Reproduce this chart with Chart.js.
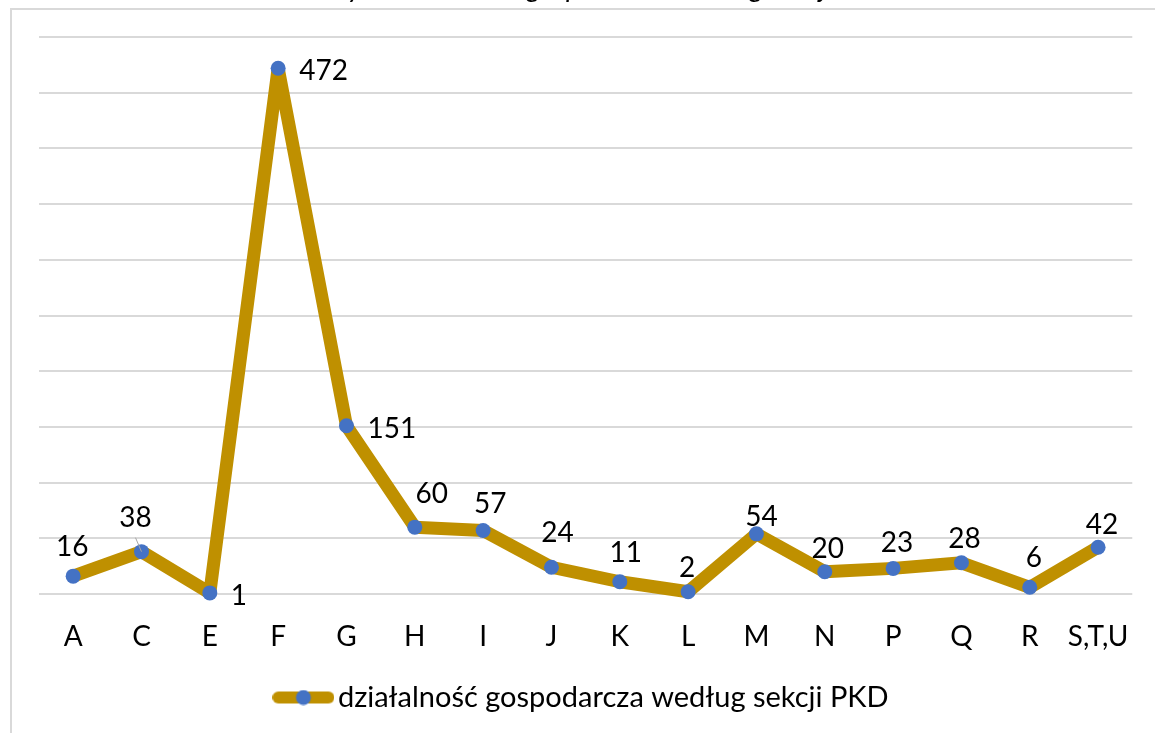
<!DOCTYPE html>
<html>
<head>
<meta charset="utf-8">
<script src="https://cdn.jsdelivr.net/npm/chart.js@4.4.1/dist/chart.umd.min.js"></script>
<style>
html,body{margin:0;padding:0;background:#ffffff;}
#wrap{position:relative;width:1155px;height:733px;overflow:hidden;}
canvas{display:block;}
</style>
</head>
<body>
<div id="wrap"><canvas id="c" width="1155" height="733"></canvas></div>
<script>
// ---- data ----
const categories = ['A','C','E','F','G','H','I','J','K','L','M','N','P','Q','R','S,T,U'];
const values = [16, 38, 1, 472, 151, 60, 57, 24, 11, 2, 54, 20, 23, 28, 6, 42];
const seriesName = 'działalność gospodarcza według sekcji PKD';
const chartTitle = 'Podmioty – działalność gospodarcza według sekcji';
const yMin = 0;
const yMax = 500;
const yStep = 50;

// ---- label styling (placement relative to each point) ----
const labelSide = ['above','above','right','right','right','above','above','above','above','above','above','above','above','above','above','above'];
const labelDx = [-1, -6, 21, 21, 21, 17, 7, 6, 6, -1, 5, 3, 4, 3, 4, 4];
const labelDy = [-30, -35, 2, 2, 2, -34, -28, -35, -30, -25, -18, -24, -26, -25, -30, -23];
const leaderLine = [false, true, false, false, false, false, false, false, false, false, false, false, false, false, false, false];

const FONT = 'Lato';
const FS = 28;
const LINE_COLOR = '#BF9000';
const POINT_COLOR = '#4472C4';

// legend symbol: thick line with round caps and a dot
function legendSymbol() {
  const cv = document.createElement('canvas');
  cv.width = 62; cv.height = 16;
  const g = cv.getContext('2d');
  g.strokeStyle = LINE_COLOR; g.lineWidth = 12; g.lineCap = 'round';
  g.beginPath(); g.moveTo(6, 8); g.lineTo(56, 8); g.stroke();
  g.fillStyle = POINT_COLOR;
  g.beginPath(); g.arc(31, 8, 7.5, 0, Math.PI * 2); g.fill();
  return cv;
}

const framePlugin = {
  id: 'frame',
  beforeDraw(chart) {
    const ctx = chart.ctx;
    ctx.save();
    ctx.fillStyle = '#ffffff';
    ctx.fillRect(0, 0, chart.width, chart.height);
    ctx.fillStyle = '#d9d9d9';
    ctx.fillRect(10, 8, chart.width - 10, 2);
    ctx.fillRect(10, 8, 2, chart.height - 8);
    // clipped title (only its lower part is inside the picture)
    ctx.font = 'italic ' + FS + 'px ' + FONT;
    ctx.fillStyle = '#000000';
    ctx.textBaseline = 'alphabetic';
    ctx.textAlign = 'left';
    const prefix = 'Podmioty – działalność ';
    const x0 = 527 - ctx.measureText(prefix).width;
    ctx.fillText(chartTitle, x0, -3);
    ctx.restore();
  }
};

const labelPlugin = {
  id: 'pointLabels',
  afterDatasetsDraw(chart) {
    const ctx = chart.ctx;
    const meta = chart.getDatasetMeta(0);
    ctx.save();
    ctx.font = FS + 'px ' + FONT;
    ctx.fillStyle = '#000000';
    ctx.textBaseline = 'alphabetic';
    meta.data.forEach((pt, i) => {
      const txt = String(values[i]);
      const cx = pt.x + labelDx[i];
      const cy = pt.y + labelDy[i];
      if (leaderLine[i]) {
        ctx.save();
        ctx.strokeStyle = '#a6a6a6';
        ctx.lineWidth = 1;
        ctx.beginPath();
        ctx.moveTo(pt.x, pt.y);
        ctx.lineTo(pt.x - 6, pt.y - 14);
        ctx.stroke();
        ctx.restore();
      }
      ctx.textAlign = labelSide[i] === 'right' ? 'left' : 'center';
      ctx.fillText(txt, cx, cy + 10);
    });
    ctx.restore();
  }
};

Chart.defaults.font.family = FONT;
Chart.defaults.font.size = FS;
Chart.defaults.color = '#000000';

new Chart(document.getElementById('c'), {
  type: 'line',
  data: {
    labels: categories,
    datasets: [{
      label: seriesName,
      data: values,
      borderColor: LINE_COLOR,
      backgroundColor: LINE_COLOR,
      borderWidth: 13,
      borderJoinStyle: 'round',
      borderCapStyle: 'round',
      tension: 0,
      fill: false,
      clip: false,
      pointRadius: 7.5,
      pointHoverRadius: 7.5,
      pointBorderWidth: 0,
      pointBackgroundColor: POINT_COLOR,
      pointBorderColor: POINT_COLOR,
      pointStyle: 'circle'
    }]
  },
  options: {
    responsive: false,
    animation: false,
    devicePixelRatio: 1,
    events: [],
    layout: { padding: { left: 39, right: 22, top: 37, bottom: 11 } },
    scales: {
      x: {
        type: 'category',
        offset: true,
        grid: { display: false, drawTicks: false },
        border: { display: false },
        ticks: { padding: 26, color: '#000000', font: { family: FONT, size: FS }, maxRotation: 0, autoSkip: false },
        afterFit(s) { s.height = 79; }
      },
      y: {
        min: yMin,
        max: yMax,
        ticks: { display: false, stepSize: yStep },
        grid: { color: '#d9d9d9', lineWidth: 2, drawTicks: false },
        border: { display: false },
        afterFit(s) { s.width = 0; }
      }
    },
    plugins: {
      legend: {
        position: 'bottom',
        labels: {
          usePointStyle: true,
          pointStyle: legendSymbol(),
          pointStyleWidth: 40,
          padding: 10,
          color: '#000000',
          font: { family: FONT, size: 29 }
        }
      },
      title: { display: false },
      tooltip: { enabled: false }
    }
  },
  plugins: [framePlugin, labelPlugin]
});
</script>
</body>
</html>
